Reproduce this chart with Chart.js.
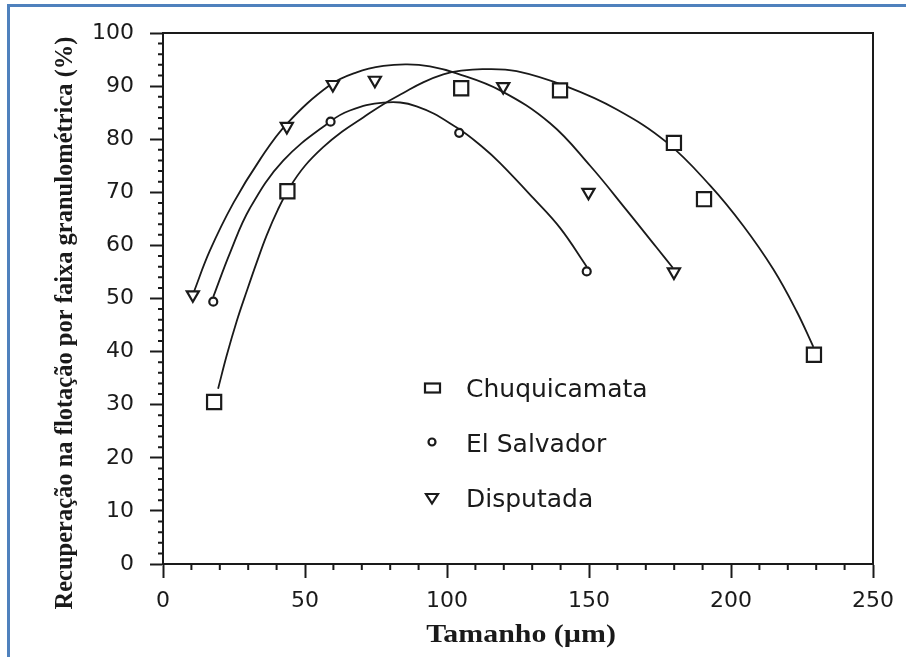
<!DOCTYPE html>
<html>
<head>
<meta charset="utf-8">
<script src="https://cdn.jsdelivr.net/npm/chart.js@4"></script>
<style>
  html, body { margin: 0; padding: 0; background: #ffffff; }
  #wrap { position: relative; width: 906px; height: 657px; overflow: hidden; }
  #frame { position: absolute; left: 7px; top: 4px; width: 950px; height: 700px;
           border-left: 3px solid #4f81bd; border-top: 3px solid #4f81bd; }
  canvas { position: absolute; left: 0; top: 0; }
</style>
</head>
<body>
<div id="wrap">
  <div id="frame"></div>
  <canvas id="c" width="906" height="657"></canvas>
</div>
<script>
// ---- data ----
const seriesNames = ['Chuquicamata', 'El Salvador', 'Disputada'];

const chuquiX = [18.0, 43.8, 105.0, 139.8, 179.9, 190.5, 229.2];
const chuquiY = [30.5, 70.2, 89.6, 89.2, 79.3, 68.7, 39.4];

const salvadorX = [17.7, 59.0, 104.3, 149.2];
const salvadorY = [49.4, 83.3, 81.2, 55.1];

const disputadaX = [10.5, 43.6, 59.8, 74.6, 119.8, 149.8, 179.9];
const disputadaY = [50.7, 82.4, 90.3, 91.1, 89.9, 70.0, 55.0];

// fitted curves
const chuquiCurveX = [19.4, 22.4, 26.0, 29.5, 33.0, 36.5, 40.5, 44.7, 50.0, 56.4, 63.0, 70.5, 77.6, 84.6, 91.6, 98.7, 105.0, 112.8, 124.5, 142.2, 159.8, 177.4, 192.6, 204.3, 214.9, 223.1, 229.0];
const chuquiCurveY = [33.0, 39.2, 45.8, 51.4, 56.8, 61.9, 66.8, 71.0, 75.0, 78.5, 81.4, 84.1, 86.6, 88.7, 90.7, 92.2, 92.9, 93.2, 92.8, 89.9, 85.6, 79.4, 71.3, 63.7, 55.5, 47.6, 40.9];

const salvadorCurveX = [17.7, 23.6, 30.6, 42.4, 58.8, 65.8, 77.6, 89.3, 103.4, 112.8, 118.7, 130.4, 139.8, 149.2];
const salvadorCurveY = [50.3, 58.6, 67.0, 76.0, 83.3, 85.4, 86.9, 86.2, 82.2, 78.4, 75.5, 68.9, 63.3, 56.0];

const disputadaCurveX = [10.7, 16.5, 24.8, 34.2, 43.6, 58.8, 68.2, 77.6, 86.0, 94.0, 103.4, 118.7, 136.3, 150.4, 163.3, 173.8, 179.5];
const disputadaCurveY = [51.0, 59.0, 68.0, 76.2, 82.9, 90.2, 92.6, 93.8, 94.1, 93.7, 92.4, 89.2, 83.0, 75.0, 66.6, 59.6, 55.8];

const xTicks = [0, 50, 100, 150, 200, 250];
const yTicks = [0, 10, 20, 30, 40, 50, 60, 70, 80, 90, 100];

const xTitle = 'Tamanho (µm)';
const yTitle = 'Recuperação na flotação por faixa granulométrica (%)';

// ---- build ----
const INK = '#1a1a1a';
const pts = (xs, ys) => xs.map((x, i) => ({ x: x, y: ys[i] }));

const markerDs = (label, xs, ys, style, radius, rot) => ({
  label: label, data: pts(xs, ys), showLine: false,
  pointStyle: style, pointRadius: radius, pointHoverRadius: radius,
  pointRotation: rot, pointBorderWidth: 2.2, pointBorderColor: INK,
  pointBackgroundColor: '#ffffff', borderColor: INK, backgroundColor: '#ffffff'
});
const curveDs = (xs, ys) => ({
  label: '_curve', data: pts(xs, ys), showLine: true, pointRadius: 0,
  borderColor: INK, borderWidth: 1.8, tension: 0.4, fill: false
});

const extras = {
  id: 'extras',
  afterDraw(chart) {
    const ctx = chart.ctx, a = chart.chartArea;
    const xs = chart.scales.x, ys = chart.scales.y;
    ctx.save();
    ctx.strokeStyle = INK; ctx.lineWidth = 2;
    // top and right frame of plot box
    ctx.beginPath();
    ctx.moveTo(a.left, a.top); ctx.lineTo(a.right, a.top); ctx.lineTo(a.right, a.bottom);
    ctx.stroke();
    // minor ticks
    ctx.beginPath();
    for (let v = 10; v < 250; v += 10) {
      if (v % 50 === 0) continue;
      const px = xs.getPixelForValue(v);
      ctx.moveTo(px, a.bottom); ctx.lineTo(px, a.bottom + 6);
    }
    for (let v = 2; v < 100; v += 2) {
      if (v % 10 === 0) continue;
      const py = ys.getPixelForValue(v);
      ctx.moveTo(a.left - 5, py); ctx.lineTo(a.left, py);
    }
    ctx.stroke();

    // legend
    const lx = 432, tx = 466;
    const rows = [396.7, 451.7, 506.7];
    const mks = [388, 442, 498];
    ctx.fillStyle = INK;
    ctx.font = '25px "DejaVu Sans"';
    ctx.textAlign = 'left'; ctx.textBaseline = 'alphabetic';
    ctx.lineWidth = 2.2;
    ctx.strokeRect(lx - 7, mks[0] - 4.5, 15, 9);
    ctx.beginPath(); ctx.arc(lx, mks[1], 3.5, 0, Math.PI * 2); ctx.stroke();
    ctx.beginPath();
    ctx.moveTo(lx - 6, mks[2] - 4); ctx.lineTo(lx + 6, mks[2] - 4); ctx.lineTo(lx, mks[2] + 5.5); ctx.closePath();
    ctx.stroke();
    seriesNames.forEach((n, i) => ctx.fillText(n, tx, rows[i]));

    // axis titles
    ctx.textAlign = 'center';
    ctx.font = 'bold 26px "Liberation Serif"';
    ctx.save();
    ctx.translate(521, 642);
    ctx.scale(1.15, 1);
    ctx.fillText(xTitle, 0, 0);
    ctx.restore();

    ctx.save();
    ctx.translate(66, 323);
    ctx.rotate(-Math.PI / 2);
    ctx.font = 'bold 24.5px "Liberation Serif"';
    ctx.textBaseline = 'middle';
    ctx.fillText(yTitle, 0, 0);
    ctx.restore();
    ctx.restore();
  }
};

new Chart(document.getElementById('c'), {
  type: 'scatter',
  data: {
    datasets: [
      markerDs(seriesNames[0], chuquiX, chuquiY, 'rect', 10, 0),
      markerDs(seriesNames[1], salvadorX, salvadorY, 'circle', 4, 0),
      markerDs(seriesNames[2], disputadaX, disputadaY, 'triangle', 7, 180),
      curveDs(chuquiCurveX, chuquiCurveY),
      curveDs(salvadorCurveX, salvadorCurveY),
      curveDs(disputadaCurveX, disputadaCurveY)
    ]
  },
  options: {
    responsive: false,
    animation: false,
    layout: { padding: { left: 0, top: 33, right: 33, bottom: 0 } },
    plugins: { legend: { display: false }, tooltip: { enabled: false }, title: { display: false } },
    scales: {
      x: {
        type: 'linear', min: 0, max: 250,
        afterBuildTicks: s => { s.ticks = xTicks.map(v => ({ value: v })); },
        afterFit: s => { s.height = 93; },
        ticks: { color: INK, font: { family: 'DejaVu Sans', size: 22 }, padding: 10, maxRotation: 0 },
        grid: { drawOnChartArea: false, drawTicks: true, tickLength: 14, tickWidth: 2, tickColor: INK },
        border: { display: true, color: INK, width: 2 }
      },
      y: {
        type: 'linear', min: 0, max: 100,
        afterBuildTicks: s => { s.ticks = yTicks.map(v => ({ value: v })); },
        afterFit: s => { s.width = 163; },
        ticks: { color: INK, font: { family: 'DejaVu Sans', size: 22 }, padding: 16 },
        grid: { drawOnChartArea: false, drawTicks: true, tickLength: 13, tickWidth: 2, tickColor: INK },
        border: { display: true, color: INK, width: 2 }
      }
    }
  },
  plugins: [extras]
});
</script>
</body>
</html>
